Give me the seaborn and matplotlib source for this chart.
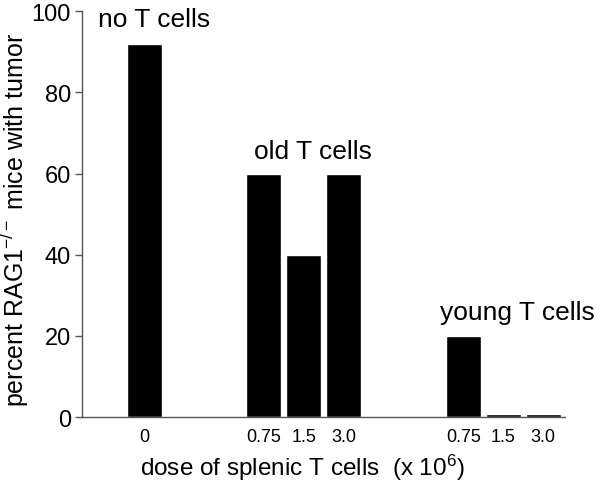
import numpy as np
import pandas as pd
import matplotlib
matplotlib.use("Agg")
import matplotlib.pyplot as plt
import seaborn as sns

# data
groups = ["no T cells", "old T cells", "young T cells"]
doses = [["0"], ["0.75", "1.5", "3.0"], ["0.75", "1.5", "3.0"]]
percents = [[92], [60, 40, 60], [20, 0.7, 0.7]]

# lay out the bars: groups separated by a gap of 2 slots
rows = []
pos = 0
group_centers = []
for g, ds, vs in zip(groups, doses, percents):
    start = pos
    for d, v in zip(ds, vs):
        rows.append({"group": g, "dose": d, "pos": pos, "pct": v})
        pos += 1
    group_centers.append((start + pos - 1) / 2)
    pos += 2
df = pd.DataFrame(rows)

sns.set_style("ticks")
plt.rcParams["font.family"] = ["Liberation Sans", "DejaVu Sans"]
plt.rcParams["mathtext.fontset"] = "custom"
plt.rcParams["mathtext.rm"] = "Liberation Sans"
plt.rcParams["mathtext.it"] = "Liberation Sans"
plt.rcParams["text.color"] = "black"
plt.rcParams["axes.labelcolor"] = "black"
plt.rcParams["xtick.color"] = "black"
plt.rcParams["ytick.color"] = "black"

fig = plt.figure(figsize=(6, 4.89), dpi=100)
ax = fig.add_axes([0.137, 0.145, 0.805, 0.83])

sns.barplot(data=df, x="pos", y="pct", native_scale=True, color="black",
            width=0.88, saturation=1, errorbar=None, ax=ax)

ax.set_xlim(-1.55, 10.55)
ax.set_ylim(0, 100)
ax.set_yticks([0, 20, 40, 60, 80, 100])
ax.set_xticks(df["pos"])
ax.set_xticklabels(df["dose"], fontsize=13)
ax.tick_params(axis="x", length=0, pad=8)
ax.tick_params(axis="y", labelsize=17, length=5, width=1, color="#555555", pad=3)
sns.despine(ax=ax)
for s in ["left", "bottom"]:
    ax.spines[s].set_color("#555555")
    ax.spines[s].set_linewidth(1)

ax.set_xlabel("dose of splenic T cells  (x 10$^6$)", fontsize=17.5)
ax.set_ylabel("percent RAG1$^{-/-}$ mice with tumor", fontsize=18)
ax.xaxis.set_label_coords(0.455, -0.086)
ax.yaxis.set_label_coords(-0.106, 0.488)

# group labels
label_xy = [(group_centers[0] + 0.24, 98), (group_centers[1] + 0.23, 65.5), (group_centers[2] + 0.35, 26)]
for g, (x, y) in zip(groups, label_xy):
    ax.text(x, y, g, ha="center", va="center", fontsize=19)

fig.savefig("out.png", dpi=100)
